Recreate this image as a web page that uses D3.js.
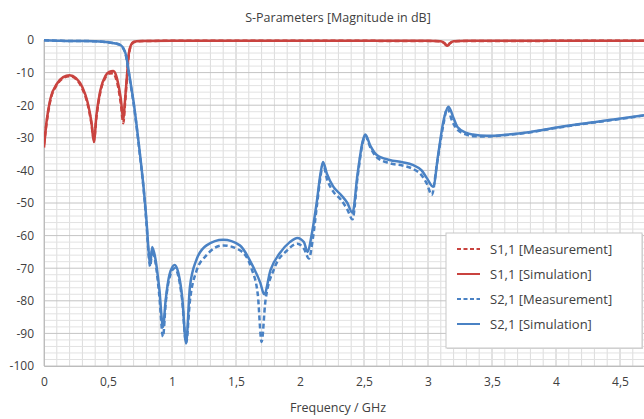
<!DOCTYPE html>
<html>
<head>
<meta charset="utf-8">
<script src="https://cdn.jsdelivr.net/npm/d3@7"></script>
<style>
  body { margin: 0; background: #fff; }
  svg { display: block; font-family: "Open Sans", sans-serif; }
</style>
</head>
<body>
<svg id="chart" width="644" height="419"></svg>
<script>
// x ticks (GHz) and y ticks (dB)
const xTicks = [0, 0.5, 1, 1.5, 2, 2.5, 3, 3.5, 4, 4.5];
const yTicks = [0, -10, -20, -30, -40, -50, -60, -70, -80, -90, -100];

// [frequency GHz, magnitude dB]
const s11Sim = [[0,-33],[0.02,-25],[0.05,-18],[0.1,-13.5],[0.15,-11.4],[0.2,-10.8],[0.25,-11.7],[0.3,-14.5],
  [0.34,-19],[0.37,-25],[0.39,-31.3],[0.41,-23],[0.44,-15.5],[0.48,-11],[0.51,-9.8],[0.54,-9.5],[0.56,-10.5],
  [0.58,-13.5],[0.6,-18],[0.62,-24.5],[0.63,-20],[0.65,-10],[0.66,-5],[0.68,-1.5],[0.7,-0.6],[0.75,-0.3],
  [1,-0.2],[2,-0.2],[3,-0.25],[3.1,-0.4],[3.13,-1],[3.15,-1.8],[3.17,-1],[3.2,-0.4],[3.3,-0.25],[4.7,-0.2]];

const s11Meas = [[0,-32],[0.02,-25.5],[0.05,-18.5],[0.1,-13.8],[0.15,-11.7],[0.2,-11.1],[0.25,-12],[0.3,-15],
  [0.34,-19.5],[0.37,-25.5],[0.39,-30.5],[0.41,-23.5],[0.44,-16],[0.48,-11.5],[0.51,-10.3],[0.54,-10.2],[0.56,-11.5],
  [0.58,-14.5],[0.6,-19.5],[0.62,-25.5],[0.63,-21],[0.65,-10.5],[0.66,-5.5],[0.68,-1.7],[0.7,-0.7],[0.75,-0.35],
  [1,-0.25],[2,-0.25],[3,-0.3],[3.1,-0.45],[3.13,-1.1],[3.15,-1.9],[3.17,-1.1],[3.2,-0.45],[3.3,-0.3],[4.7,-0.25]];

const s21Sim = [[0,-0.1],[0.1,-0.2],[0.2,-0.3],[0.3,-0.3],[0.4,-0.4],[0.5,-0.7],[0.55,-1],[0.6,-1.6],[0.62,-2.5],
  [0.64,-4.5],[0.66,-9],[0.68,-14],[0.7,-19],[0.72,-25],[0.75,-35],[0.78,-46],[0.8,-55],[0.82,-66],[0.83,-69],
  [0.845,-63.5],[0.87,-67],[0.9,-76],[0.93,-88],[0.95,-80],[0.98,-72],[1.02,-69],[1.05,-71.5],[1.08,-79],[1.11,-93],
  [1.14,-75.7],[1.19,-67.5],[1.27,-63],[1.4,-61.3],[1.53,-63],[1.62,-68.5],[1.69,-74.5],[1.72,-78],[1.77,-70.5],
  [1.84,-65.5],[1.92,-62],[1.98,-60.7],[2.03,-62],[2.06,-65],[2.09,-60],[2.13,-50],[2.16,-41],[2.18,-37.4],
  [2.21,-41],[2.26,-45],[2.32,-47.5],[2.37,-50],[2.41,-53],[2.45,-41],[2.49,-31],[2.51,-29],[2.55,-32.5],
  [2.6,-35.3],[2.7,-36.8],[2.8,-37.5],[2.88,-38.3],[2.95,-40],[2.99,-42.3],[3.04,-45],[3.08,-35],[3.12,-25],
  [3.16,-20.5],[3.2,-24],[3.23,-26.7],[3.3,-28.5],[3.35,-29],[3.46,-29.4],[3.6,-29.1],[3.8,-28.2],[3.98,-27],
  [4.2,-25.7],[4.45,-24.4],[4.7,-23]];

const s21Meas = [[0,-0.1],[0.1,-0.2],[0.2,-0.3],[0.3,-0.3],[0.4,-0.4],[0.5,-0.7],[0.55,-1],[0.6,-1.7],[0.62,-2.7],
  [0.64,-4.8],[0.66,-9.5],[0.68,-14.5],[0.7,-19.5],[0.72,-25.5],[0.75,-35.5],[0.78,-46.5],[0.8,-56],[0.82,-67],[0.83,-69.5],
  [0.845,-64.5],[0.87,-68],[0.9,-78],[0.93,-91],[0.95,-81],[0.98,-73],[1.02,-70],[1.05,-72.5],[1.08,-80],[1.11,-93],
  [1.14,-80],[1.19,-71],[1.27,-66],[1.4,-63],[1.53,-64.5],[1.62,-70],[1.67,-78],[1.7,-92.6],[1.73,-80],[1.8,-70],
  [1.9,-64.5],[1.98,-62.5],[2.03,-64],[2.07,-67],[2.1,-61],[2.13,-51.5],[2.16,-42],[2.18,-38],
  [2.21,-42.5],[2.26,-46.5],[2.32,-49],[2.37,-52],[2.41,-55],[2.45,-42],[2.49,-31.5],[2.51,-29.5],[2.55,-33],
  [2.6,-36],[2.7,-37.8],[2.8,-38.5],[2.88,-39.5],[2.95,-41.5],[2.99,-44],[3.03,-47.5],[3.07,-38],[3.12,-26],
  [3.15,-21],[3.19,-25],[3.23,-27.5],[3.3,-29],[3.35,-29.5],[3.46,-29.6],[3.6,-29.2],[3.8,-28.3],[3.98,-27.1],
  [4.2,-25.8],[4.45,-24.5],[4.7,-23.1]];

const seriesNames = ["S1,1 [Measurement]", "S1,1 [Simulation]", "S2,1 [Measurement]", "S2,1 [Simulation]"];

const red = "#c9433f", blue = "#4a82c4";
const series = [
  { name: seriesNames[0], data: s11Meas, color: red, dash: "5,3" },
  { name: seriesNames[1], data: s11Sim, color: red, dash: null },
  { name: seriesNames[2], data: s21Meas, color: blue, dash: "5,3" },
  { name: seriesNames[3], data: s21Sim, color: blue, dash: null }
];

const svg = d3.select("#chart");
const pLeft = 44, pRight = 644, pTop = 40, pBottom = 366;

const x = d3.scaleLinear().domain([0, 4.6875]).range([pLeft, pRight]);
const y = d3.scaleLinear().domain([-100, 0]).range([pBottom, pTop]);

const fmt = d3.formatLocale({ decimal: ",", thousands: ".", grouping: [3], currency: ["", "€"] }).format("~g");

// grid
const grid = svg.append("g");
grid.selectAll(".vminor").data(d3.range(0, 47).map(i => i / 10))
  .enter().append("line")
  .attr("x1", d => x(d)).attr("x2", d => x(d))
  .attr("y1", pTop).attr("y2", pBottom)
  .attr("stroke", d => Math.abs(d * 2 - Math.round(d * 2)) < 1e-6 ? "#c4c4c4" : "#dcdcdc")
  .attr("stroke-width", 1);
grid.selectAll(".hminor").data(d3.range(0, 51).map(i => -i * 2))
  .enter().append("line")
  .attr("x1", pLeft).attr("x2", pRight)
  .attr("y1", d => y(d)).attr("y2", d => y(d))
  .attr("stroke", d => d % 10 === 0 ? "#c4c4c4" : "#e2e2e2")
  .attr("stroke-width", 1);

// axes
const xAxis = svg.append("g").attr("transform", `translate(0,${pBottom})`)
  .call(d3.axisBottom(x).tickValues(xTicks).tickSize(0).tickPadding(11).tickFormat(d => fmt(d)));
const yAxis = svg.append("g").attr("transform", `translate(${pLeft},0)`)
  .call(d3.axisLeft(y).tickValues(yTicks).tickSize(0).tickPadding(10).tickFormat(d => String(d)));
[xAxis, yAxis].forEach(a => {
  a.select(".domain").attr("stroke", "#bcbcbc");
  a.selectAll("text").attr("fill", "#404040").style("font-size", "12px").style("font-family", "Open Sans, sans-serif");
});

// lines
const line = d3.line().x(d => x(d[0])).y(d => y(d[1])).curve(d3.curveMonotoneX);
svg.append("defs").append("clipPath").attr("id", "clip")
  .append("rect").attr("x", pLeft).attr("y", pTop - 4).attr("width", pRight - pLeft).attr("height", pBottom - pTop + 8);
const plot = svg.append("g").attr("clip-path", "url(#clip)");
plot.selectAll(".series").data(series).enter().append("path")
  .attr("fill", "none")
  .attr("stroke", d => d.color)
  .attr("stroke-width", 2.5)
  .attr("stroke-dasharray", d => d.dash)
  .attr("d", d => line(d.data));

// title + axis label
svg.append("text").attr("x", 338).attr("y", 22).attr("text-anchor", "middle")
  .attr("fill", "#404040").style("font-size", "12.5px").text("S-Parameters [Magnitude in dB]");
svg.append("text").attr("x", 338).attr("y", 412).attr("text-anchor", "middle")
  .attr("fill", "#404040").style("font-size", "12.5px").text("Frequency / GHz");

// legend
const lg = svg.append("g").attr("transform", "translate(446,233)");
lg.append("rect").attr("x", 1).attr("y", 1).attr("width", 196).attr("height", 115).attr("fill", "#d8d8d8");
lg.append("rect").attr("width", 196).attr("height", 115).attr("fill", "#fff").attr("stroke", "#c8c8c8");
const item = lg.selectAll(".item").data(series).enter().append("g")
  .attr("transform", (d, i) => `translate(0,${16 + i * 25})`);
item.append("line").attr("x1", 11).attr("x2", 34).attr("y1", 0).attr("y2", 0)
  .attr("stroke", d => d.color).attr("stroke-width", 2).attr("stroke-dasharray", d => d.dash ? "4,2.5" : null);
item.append("text").attr("x", 44).attr("y", 4.5).attr("fill", "#404040")
  .style("font-size", "13px").text(d => d.name);
</script>
</body>
</html>
